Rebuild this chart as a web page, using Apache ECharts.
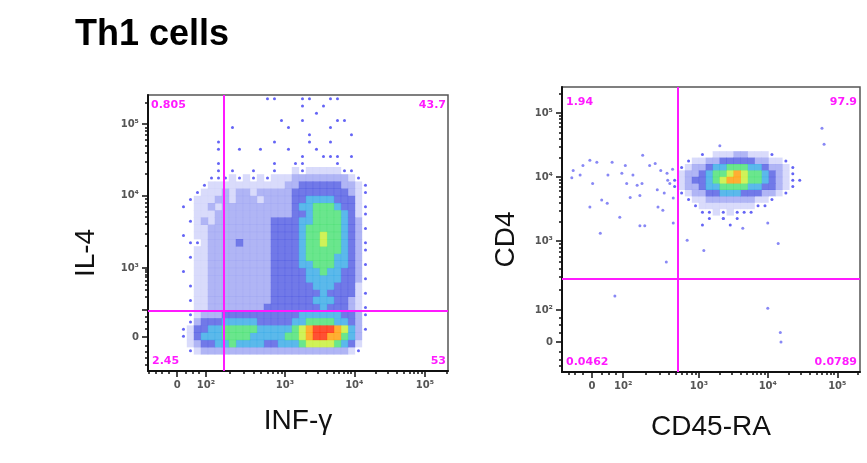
<!doctype html>
<meta charset="utf-8">
<title>Th1 cells</title>
<style>
	html, body { margin: 0; background: #fff; }
	#chart { width: 867px; height: 463px; }
</style>
<div id="chart"></div>
<script src="https://cdn.jsdelivr.net/npm/echarts@6/dist/echarts.min.js"></script>
<script>
	// axis unit = decade of the logicle display (10^3 sits at 3)
	// density grids: one char per 0.1 x 0.1 decade cell, level 0 (empty) .. 9 (red)

	// --- IL-4 vs INF-γ ---
	const ifnGridX0 = 1.5, ifnGridY0 = 5.4;
	const ifnRows = [
		"000000000000110001100110000",
		"000000000000000001001000000",
		"000000000000000000010000000",
		"000000000000001001000011000",
		"000000010000000100000100000",
		"000000000000000000100000100",
		"000001000000010000100100000",
		"000001001001000100010000000",
		"000000000000000001001110100",
		"000001000000010011000010000",
		"000001010010010021222221100",
		"000011121212122233333333210",
		"000122222222222334444443321",
		"001222323323333344444444321",
		"012223323332333344555544420",
		"102232333333333345566654421",
		"002223333333333344566665421",
		"012323333333344445566665430",
		"002233333333344445666665431",
		"102233333333344445667665430",
		"011233334333344445667665431",
		"002233333333344445666665431",
		"012233333333344445666655430",
		"002233333333344445566655431",
		"102233333333344444556554430",
		"002233333333344444555554431",
		"012233333333344444455544420",
		"002233333333344444445444421",
		"012233333333344444455544320",
		"002233333333444444445444321",
		"012333444444444445555554431",
		"013444555554444455666655430",
		"124455666665555567899987531",
		"124555666655555667899886530",
		"023445565555445556777765420",
		"012333333333333333333333210"
	];
	const ifnGate = [2.13, 2.40];
	const ifnQuad = ["0.805", "43.7", "2.45", "53"];
	const ifnXTicks = [1.46, 1.87, 3.0, 3.99, 5.0];
	const il4YTicks = [2.04, 2.42, 3.0, 4.01, 5.0];

	// --- CD4 vs CD45-RA ---
	const cd45GridX0 = 2.6, cd45GridY0 = 4.4;
	const cd45Rows = [
		"0000102223322210000",
		"0012233444443322100",
		"0123345566655433210",
		"0233456678766543210",
		"1234456788766543211",
		"1233455666655443210",
		"0123344555444332100",
		"0012233333332210000",
		"0001222222221100000",
		"0000112121110000000",
		"0000010101000000000",
		"0000100010000000000"
	];
	const cd45Events = [
		[1.19, 4.10], [1.33, 4.18], [1.53, 4.23], [1.75, 4.23], [1.94, 4.18], [1.47, 3.90],
		[1.69, 4.03], [1.89, 4.06], [2.05, 4.03], [2.19, 4.34], [2.29, 4.18], [2.37, 4.21],
		[2.18, 3.90], [2.15, 3.71], [2.01, 3.68], [1.60, 3.64], [1.68, 3.59], [1.43, 3.53],
		[1.86, 3.37], [2.15, 3.24], [2.22, 3.24], [2.41, 3.53], [2.48, 3.48], [1.58, 3.12],
		[2.54, 4.06], [2.58, 3.90], [2.63, 3.67], [1.29, 4.03], [1.96, 3.90], [2.11, 3.87],
		[1.17, 3.99], [1.43, 4.26], [1.79, 2.14], [2.53, 2.67], [3.07, 2.85], [4.14, 2.96],
		[3.99, 1.95], [4.17, 1.57], [4.18, 1.42], [4.77, 4.76], [4.80, 4.51], [3.99, 3.28],
		[3.63, 3.20], [3.35, 3.35], [2.83, 3.01], [2.63, 3.28], [3.30, 4.49], [2.45, 4.10],
		[2.50, 3.75], [2.55, 3.95], [2.62, 4.12], [2.40, 3.80]
	];
	const cd45Gate = [2.70, 2.41];
	const cd45Quad = ["1.94", "97.9", "0.0462", "0.0789"];
	const cd45XTicks = [1.46, 1.91, 3.0, 3.99, 4.99];
	const cd4YTicks = [1.42, 1.92, 3.0, 4.0, 5.0];

	const tickLabels = ["0", "10²", "10³", "10⁴", "10⁵"];
	const il4Labels = ["0", "", "10³", "10⁴", "10⁵"];

	const palette = ["", "#3d3df2", "#d0d2fa", "#9ca2f2", "#4d58e2", "#32a8e6", "#45e070", "#c4ef30", "#ff9a00", "#ff2400"];
	const magenta = "#ff1aff";

	function cells(rows, x0, y0, w, h) {
		var out = [];
		rows.forEach(function (row, r) {
			for (var c = 0; c < row.length; c++) {
				var lev = +row[c];
				if (!lev) continue;
				out.push({
					value: [x0 + 0.1 * c + 0.05, y0 - 0.1 * r - 0.05, lev],
					symbol: lev === 1 ? "circle" : "rect",
					symbolSize: lev === 1 ? 3 : [w, h]
				});
			}
		});
		return out.sort(function (a, b) { return a.value[2] - b.value[2]; });
	}

	function minorTicks(t, min, max) {
		var out = [];
		var dz = t[1] - t[0];
		[0.3, 0.55, 0.75, 1].forEach(function (f) { out.push(t[0] - f * dz); });
		[0.3, 0.55, 0.75].forEach(function (f) { out.push(t[0] + f * dz); });
		for (var k = 1; k < t.length; k++) {
			var a = t[k], b = k + 1 < t.length ? t[k + 1] : t[k] + (t[k] - t[k - 1]);
			for (var m = 2; m < 10; m++) out.push(a + Math.log10(m) * (b - a));
		}
		return out.filter(function (v) { return v > min && v < max; });
	}

	function axisPair(gi, ticks, labels, min, max, name, gap, isX, namePad) {
		var shown = ticks.filter(function (t, i) { return labels[i] !== ""; });
		var major = {
			type: "value", gridIndex: gi, min: min, max: max,
			position: isX ? "bottom" : "left",
			name: name, nameLocation: "middle", nameGap: gap,
			nameTextStyle: { fontFamily: "Liberation Sans", fontSize: 28, color: "#111", padding: namePad || 0 },
			axisLine: { show: true, onZero: false, lineStyle: { color: "#111", width: 2 } },
			axisTick: { show: true, customValues: ticks, length: 6, lineStyle: { color: "#111", width: 1.5 } },
			axisLabel: {
				customValues: shown, margin: 9,
				fontFamily: "DejaVu Sans", fontSize: 10, fontWeight: "bold", color: "#555",
				formatter: function (v) {
					var i = ticks.findIndex(function (t) { return Math.abs(t - v) < 1e-6; });
					return i >= 0 ? labels[i] : "";
				}
			},
			splitLine: { show: false }
		};
		var minor = {
			type: "value", gridIndex: gi, min: min, max: max,
			position: isX ? "bottom" : "left",
			axisLine: { show: false, onZero: false },
			axisTick: { show: true, customValues: minorTicks(ticks, min, max), length: 3, lineStyle: { color: "#111", width: 1.5 } },
			axisLabel: { show: false },
			splitLine: { show: false }
		};
		return [major, minor];
	}

	function gateLines(g) {
		return {
			silent: true, symbol: "none", animation: false,
			label: { show: false },
			lineStyle: { color: magenta, width: 2, type: "solid", opacity: 1 },
			emphasis: { disabled: true },
			data: [{ xAxis: g[0] }, { yAxis: g[1] }]
		};
	}

	function quadText(x, y, text, align) {
		return {
			type: "text", left: align === "right" ? null : x, right: align === "right" ? 867 - x : null, top: y,
			style: { text: text, fill: magenta, font: "bold 11px 'DejaVu Sans'" }
		};
	}

	var xs = axisPair(0, ifnXTicks, tickLabels, 1.043, 5.329, "INF-γ", 36, true)
		.concat(axisPair(1, cd45XTicks, tickLabels, 1.029, 5.317, "CD45-RA", 41, true));
	var ys = axisPair(0, il4YTicks, il4Labels, 1.569, 5.403, "IL-4", 48, false, [0, 40, 0, 0])
		.concat(axisPair(1, cd4YTicks, tickLabels, 0.953, 5.406, "CD4", 42, false, [0, 20, 0, 0]));

	var chart = echarts.init(document.getElementById("chart"), null, { renderer: "canvas" });
	chart.setOption({
		animation: false,
		backgroundColor: "#fff",
		title: {
			text: "Th1 cells", left: 70, top: 12,
			textStyle: { fontFamily: "Liberation Sans", fontSize: 36, fontWeight: "bold", color: "#000" }
		},
		grid: [
			{ left: 148, top: 95, width: 300, height: 276, show: true, borderColor: "#555", borderWidth: 1.5 },
			{ left: 562, top: 87, width: 298, height: 285, show: true, borderColor: "#555", borderWidth: 1.5 }
		],
		xAxis: xs,
		yAxis: ys,
		series: [
			{
				type: "scatter", xAxisIndex: 0, yAxisIndex: 0, large: false, silent: true,
				data: cells(ifnRows, ifnGridX0, ifnGridY0, 7.4, 7.6),
				itemStyle: { color: function (p) { return palette[p.value[2]]; } },
				markLine: gateLines(ifnGate)
			},
			{
				type: "scatter", xAxisIndex: 2, yAxisIndex: 2, large: false, silent: true,
				data: cells(cd45Rows, cd45GridX0, cd45GridY0, 7.4, 6.8),
				itemStyle: { color: function (p) { return palette[p.value[2]]; } },
				markLine: gateLines(cd45Gate)
			},
			{
				type: "scatter", xAxisIndex: 2, yAxisIndex: 2, silent: true,
				data: cd45Events, symbolSize: 3,
				itemStyle: { color: "#6a6af2" }
			}
		],
		graphic: [
			quadText(151, 100, ifnQuad[0]),
			quadText(446, 100, ifnQuad[1], "right"),
			quadText(152, 356, ifnQuad[2]),
			quadText(446, 356, ifnQuad[3], "right"),
			quadText(566, 97, cd45Quad[0]),
			quadText(857, 97, cd45Quad[1], "right"),
			quadText(566, 357, cd45Quad[2]),
			quadText(857, 357, cd45Quad[3], "right")
		]
	});
</script>
